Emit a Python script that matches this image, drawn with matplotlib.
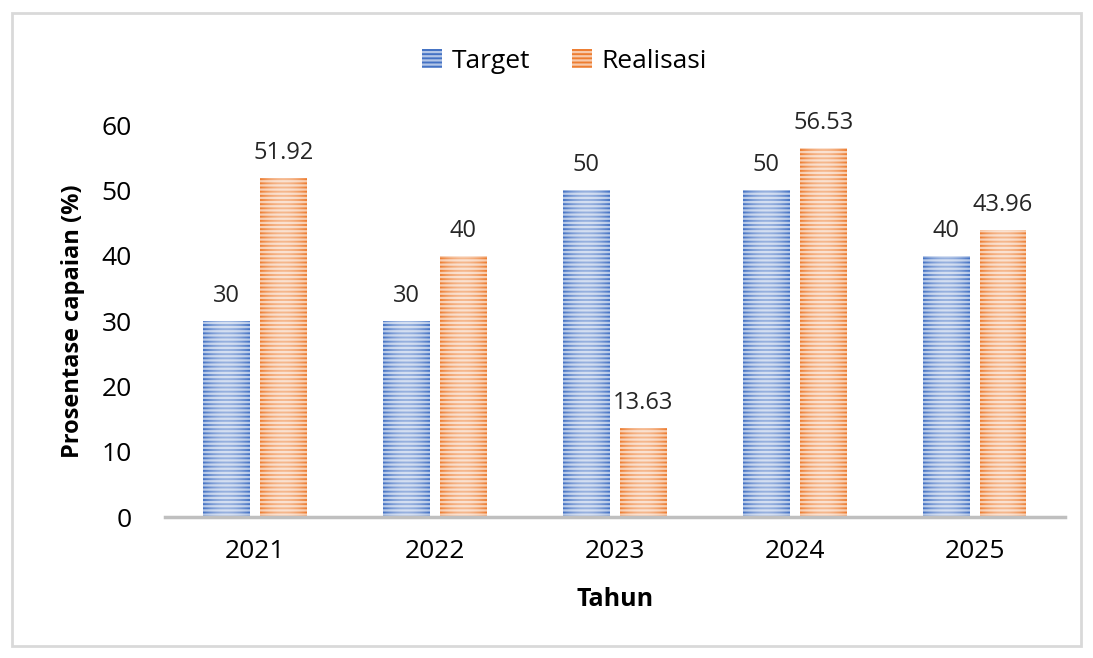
import numpy as np
import matplotlib.pyplot as plt
from matplotlib.patches import Rectangle

years = ["2021", "2022", "2023", "2024", "2025"]
target = [30, 30, 50, 50, 40]
realisasi = [51.92, 40, 13.63, 56.53, 43.96]
target_labels = ["30", "30", "50", "50", "40"]
realisasi_labels = ["51.92", "40", "13.63", "56.53", "43.96"]

BLUE = "#4472c4"
ORANGE = "#ed7d31"

plt.rcParams["font.family"] = ["Open Sans", "DejaVu Sans"]
plt.rcParams["hatch.color"] = (1, 1, 1, 0.6)
plt.rcParams["hatch.linewidth"] = 1.6


def shadeBars(ax, bars) -> None:
    """Lighten the middle of each bar, like the office gradient fill"""
    prof = np.linspace(-1, 1, 64)
    alpha = 0.45 * (1 - prof ** 2)
    img = np.ones((1, 64, 4))
    img[0, :, 3] = alpha
    for rect in bars:
        x0 = rect.get_x()
        ax.imshow(img, extent=(x0, x0 + rect.get_width(), 0, rect.get_height()),
                  aspect="auto", interpolation="bilinear", zorder=rect.get_zorder() + 0.1)


def plotBars(save: str = "out.png") -> None:
    fig = plt.figure(figsize=(10.93, 6.58), dpi=100)
    ax = fig.add_axes([0.151, 0.214, 0.823, 0.596])

    x = np.arange(len(years))
    w = 0.26
    off = 0.158
    b1 = ax.bar(x - off, target, w, color=BLUE, hatch="----", linewidth=0, label="Target")
    b2 = ax.bar(x + off, realisasi, w, color=ORANGE, hatch="----", linewidth=0, label="Realisasi")
    shadeBars(ax, b1)
    shadeBars(ax, b2)

    for bars, labs in ((b1, target_labels), (b2, realisasi_labels)):
        for rect, lab in zip(bars, labs):
            ax.text(rect.get_x() + rect.get_width() / 2, rect.get_height() + 2.0, lab,
                    ha="center", va="bottom", fontsize=17, color="#262626")

    ax.set_xlim(-0.5, len(years) - 0.5)
    ax.set_ylim(0, 60)
    ax.set_yticks(range(0, 61, 10))
    ax.set_xticks(x)
    ax.set_xticklabels(years)
    ax.tick_params(axis="both", length=0, labelsize=19, colors="#000000")
    ax.tick_params(axis="x", pad=16)
    ax.tick_params(axis="y", pad=24)
    for s in ("top", "right", "left"):
        ax.spines[s].set_visible(False)
    ax.spines["bottom"].set_color("#bfbfbf")
    ax.spines["bottom"].set_linewidth(2.5)

    ax.set_xlabel("Tahun", fontsize=18, fontweight="bold", labelpad=16)
    ax.set_ylabel("Prosentase capaian (%)", fontsize=17, fontweight="bold", labelpad=12)

    ax.legend(loc="lower center", bbox_to_anchor=(0.444, 1.07), ncol=2, frameon=False,
              fontsize=19, handlelength=0.75, handleheight=0.75, columnspacing=1.6,
              handletextpad=0.35)

    fig.patches.append(Rectangle((0.011, 0.018), 0.978, 0.962, transform=fig.transFigure,
                                 fill=False, edgecolor="#d9d9d9", linewidth=2))
    plt.savefig(save)


if __name__ == "__main__":
    plotBars()
